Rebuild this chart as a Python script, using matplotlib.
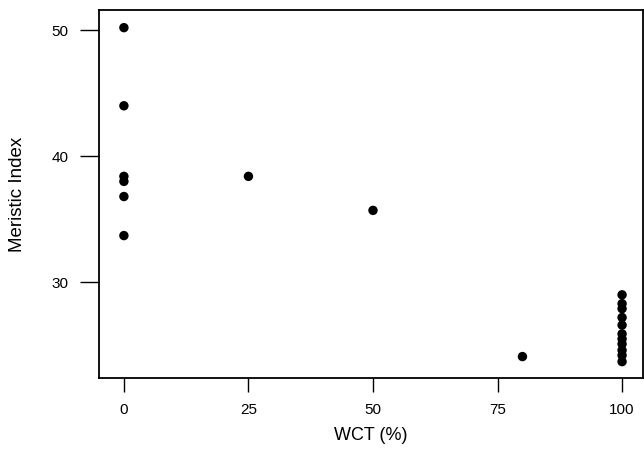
import numpy as np
import matplotlib.pyplot as plt

plt.rcParams['font.family'] = ['Liberation Sans', 'DejaVu Sans']

# WCT percentage and meristic index per sample
wct_pct = [0, 0, 0, 0, 0, 0, 25, 50, 80,
           100, 100, 100, 100, 100, 100, 100, 100, 100, 100, 100]
meristic = [50.2, 44.0, 38.4, 38.0, 36.8, 33.7, 38.4, 35.7, 24.1,
            29.0, 28.3, 27.9, 27.2, 26.6, 25.9, 25.5, 25.1, 24.6, 24.2, 23.7]

x_ticks = [0, 25, 50, 75, 100]
y_ticks = [30, 40, 50]

fig = plt.figure(figsize=(6.44, 4.5), dpi=100)
ax = fig.add_axes([99 / 644, 72 / 450, 544 / 644, 368 / 450])

ax.scatter(wct_pct, meristic, s=46, color='black', edgecolors='none', zorder=3)

ax.set_xlim(-5.0, 104.2)
ax.set_ylim(22.4, 51.6)
ax.set_xticks(x_ticks)
ax.set_yticks(y_ticks)
ax.tick_params(axis='x', length=10, width=1.0, pad=8, labelsize=11)
ax.tick_params(axis='y', length=14, width=1.0, pad=8, labelsize=11)
for sp in ax.spines.values():
    sp.set_linewidth(1.3)

ax.set_xlabel('WCT (%)', fontsize=13, labelpad=7)
ax.set_ylabel('Meristic Index', fontsize=13.5, labelpad=18)

fig.savefig('out.png', dpi=100)
